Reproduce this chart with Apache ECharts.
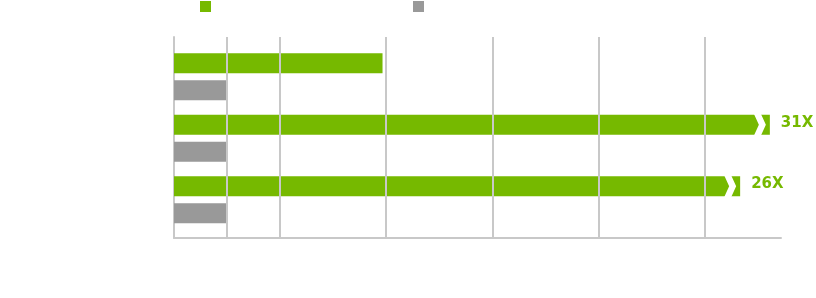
<!DOCTYPE html>
<html><head><meta charset="utf-8">
<script src="https://cdn.jsdelivr.net/npm/echarts@6/dist/echarts.min.js"></script>
<style>html,body{margin:0;padding:0;background:#fff}#c{width:816px;height:298px}</style>
</head><body><div id="c"></div>
<script>
// ---- data ----
const categories = ['Workload A', 'Workload B', 'Workload C'];
const seriesNames = ['GPU', 'CPU'];
const greenValues = [3.93, 11.23, 10.67];
const grayValues = [1, 1, 1];
const greenLabels = ['', '31X', '26X'];
const truncated = [false, true, true];
const gridTicks = [1, 2, 4, 6, 8, 10];
const X_MAX = 11.44;

// ---- style ----
const GREEN = '#76b900', GRAY = '#999999', LINE = '#c8c8c8';
const BAR_W = 20, BAR_GAP = 7;

const breakData = [];
truncated.forEach((t, i) => { if (t) breakData.push([greenValues[i], i]); });

const chart = echarts.init(document.getElementById('c'), null, {renderer: 'canvas'});
chart.setOption({
  animation: false,
  legend: {
    data: seriesNames,
    left: 200, top: 1, padding: 0,
    icon: 'rect', itemWidth: 11, itemHeight: 11,
    itemGap: 202,
    formatter: () => '',
    selectedMode: false
  },
  grid: [
    {left: 174, right: 35, top: 37, bottom: 60},
    {left: 174, right: 35, top: 46, bottom: 67.5}
  ],
  xAxis: [
    {gridIndex: 0, type: 'value', min: 0, max: X_MAX,
     axisLine: {show: true, lineStyle: {color: LINE, width: 2}},
     axisTick: {show: false}, axisLabel: {show: false}, splitLine: {show: false}},
    {gridIndex: 1, type: 'value', min: 0, max: X_MAX, show: false}
  ],
  yAxis: [
    {gridIndex: 0, type: 'value', min: 0, max: 1,
     axisLine: {show: true, lineStyle: {color: LINE, width: 2}},
     axisTick: {show: false}, axisLabel: {show: false}, splitLine: {show: false}},
    {gridIndex: 1, type: 'category', data: categories, inverse: true, show: false}
  ],
  series: [
    {
      type: 'line', xAxisIndex: 0, yAxisIndex: 0, data: [[0, 0]],
      symbol: 'none', lineStyle: {opacity: 0}, z: 1, silent: true,
      markLine: {
        silent: true, symbol: 'none', label: {show: false},
        lineStyle: {color: LINE, width: 2, type: 'solid'},
        data: gridTicks.map(v => ({xAxis: v}))
      }
    },
    {
      name: seriesNames[0], type: 'bar', xAxisIndex: 1, yAxisIndex: 1,
      data: greenValues, barWidth: BAR_W, barGap: (BAR_GAP / BAR_W * 100) + '%',
      itemStyle: {color: GREEN}, z: 3,
      label: {
        show: true, position: 'right', distance: 11,
        formatter: p => greenLabels[p.dataIndex],
        color: GREEN, fontWeight: 'bold', fontSize: 15, fontFamily: 'DejaVu Sans',
        offset: [0, -2]
      }
    },
    {
      name: seriesNames[1], type: 'bar', xAxisIndex: 1, yAxisIndex: 1,
      data: grayValues, barWidth: BAR_W,
      itemStyle: {color: GRAY}, z: 3
    },
    {
      type: 'custom', xAxisIndex: 1, yAxisIndex: 1, data: breakData, z: 4, silent: true,
      renderItem: function (params, api) {
        const p = api.coord([api.value(0), api.value(1)]);
        const E = p[0];
        const cy = p[1] - (BAR_W + BAR_GAP) / 2;
        const T = cy - BAR_W / 2 - 1, B = cy + BAR_W / 2 + 1;
        return {
          type: 'polygon',
          shape: {points: [[E - 16, T], [E - 9, T], [E - 4, cy], [E - 9, B], [E - 16, B], [E - 11, cy]]},
          style: {fill: '#ffffff'}
        };
      }
    }
  ]
});
</script>
</body></html>
